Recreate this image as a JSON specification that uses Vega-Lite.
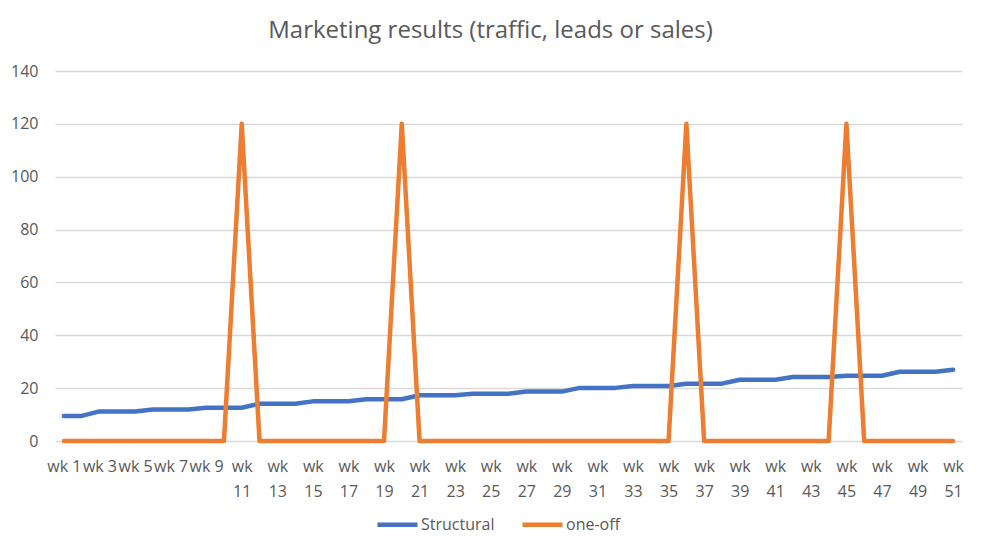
{
  "$schema": "https://vega.github.io/schema/vega-lite/v6.json",
  "width": 907,
  "height": 370,
  "autosize": {"type": "none"},
  "padding": {"left": 55, "top": 71, "right": 20, "bottom": 113},
  "background": "white",
  "title": {
    "text": "Marketing results (traffic, leads or sales)",
    "font": "Open Sans",
    "fontSize": 24,
    "fontWeight": "normal",
    "color": "#595959",
    "anchor": "middle",
    "dx": -18,
    "offset": 20
  },
  "config": {
    "view": {"stroke": null},
    "font": "Open Sans"
  },
  "data": {
    "values": [
      {"week": "wk 1", "Structural": 9.5, "one-off": 0},
      {"week": "wk 2", "Structural": 9.5, "one-off": 0},
      {"week": "wk 3", "Structural": 11.2, "one-off": 0},
      {"week": "wk 4", "Structural": 11.2, "one-off": 0},
      {"week": "wk 5", "Structural": 11.2, "one-off": 0},
      {"week": "wk 6", "Structural": 11.9, "one-off": 0},
      {"week": "wk 7", "Structural": 11.9, "one-off": 0},
      {"week": "wk 8", "Structural": 11.9, "one-off": 0},
      {"week": "wk 9", "Structural": 12.6, "one-off": 0},
      {"week": "wk 10", "Structural": 12.6, "one-off": 0},
      {"week": "wk 11", "Structural": 12.6, "one-off": 120},
      {"week": "wk 12", "Structural": 14.1, "one-off": 0},
      {"week": "wk 13", "Structural": 14.1, "one-off": 0},
      {"week": "wk 14", "Structural": 14.1, "one-off": 0},
      {"week": "wk 15", "Structural": 15.0, "one-off": 0},
      {"week": "wk 16", "Structural": 15.0, "one-off": 0},
      {"week": "wk 17", "Structural": 15.0, "one-off": 0},
      {"week": "wk 18", "Structural": 15.8, "one-off": 0},
      {"week": "wk 19", "Structural": 15.8, "one-off": 0},
      {"week": "wk 20", "Structural": 15.8, "one-off": 120},
      {"week": "wk 21", "Structural": 17.3, "one-off": 0},
      {"week": "wk 22", "Structural": 17.3, "one-off": 0},
      {"week": "wk 23", "Structural": 17.3, "one-off": 0},
      {"week": "wk 24", "Structural": 17.9, "one-off": 0},
      {"week": "wk 25", "Structural": 17.9, "one-off": 0},
      {"week": "wk 26", "Structural": 17.9, "one-off": 0},
      {"week": "wk 27", "Structural": 18.7, "one-off": 0},
      {"week": "wk 28", "Structural": 18.7, "one-off": 0},
      {"week": "wk 29", "Structural": 18.7, "one-off": 0},
      {"week": "wk 30", "Structural": 20.1, "one-off": 0},
      {"week": "wk 31", "Structural": 20.1, "one-off": 0},
      {"week": "wk 32", "Structural": 20.1, "one-off": 0},
      {"week": "wk 33", "Structural": 20.8, "one-off": 0},
      {"week": "wk 34", "Structural": 20.8, "one-off": 0},
      {"week": "wk 35", "Structural": 20.8, "one-off": 0},
      {"week": "wk 36", "Structural": 21.7, "one-off": 120},
      {"week": "wk 37", "Structural": 21.7, "one-off": 0},
      {"week": "wk 38", "Structural": 21.7, "one-off": 0},
      {"week": "wk 39", "Structural": 23.2, "one-off": 0},
      {"week": "wk 40", "Structural": 23.2, "one-off": 0},
      {"week": "wk 41", "Structural": 23.2, "one-off": 0},
      {"week": "wk 42", "Structural": 24.2, "one-off": 0},
      {"week": "wk 43", "Structural": 24.2, "one-off": 0},
      {"week": "wk 44", "Structural": 24.2, "one-off": 0},
      {"week": "wk 45", "Structural": 24.7, "one-off": 120},
      {"week": "wk 46", "Structural": 24.7, "one-off": 0},
      {"week": "wk 47", "Structural": 24.7, "one-off": 0},
      {"week": "wk 48", "Structural": 26.2, "one-off": 0},
      {"week": "wk 49", "Structural": 26.2, "one-off": 0},
      {"week": "wk 50", "Structural": 26.2, "one-off": 0},
      {"week": "wk 51", "Structural": 27.0, "one-off": 0}
    ]
  },
  "transform": [
    {"fold": ["Structural", "one-off"], "as": ["series", "value"]}
  ],
  "mark": {"type": "line", "strokeWidth": 4.5, "strokeCap": "round", "strokeJoin": "round"},
  "encoding": {
    "x": {
      "field": "week",
      "type": "ordinal",
      "sort": null,
      "scale": {"padding": 0.5},
      "axis": {
        "title": null,
        "labelAngle": 0,
        "ticks": false,
        "grid": false,
        "domain": false,
        "labelOverlap": false,
        "labelBound": false,
        "labelFlush": false,
        "labelPadding": 17,
        "labelFontSize": 16,
        "labelColor": "#595959",
        "labelFont": "Open Sans",
        "labelLineHeight": 25,
        "labelExpr": "parseInt(substring(datum.value, 3)) % 2 == 0 ? '' : (parseInt(substring(datum.value, 3)) >= 10 ? ['wk', substring(datum.value, 3)] : datum.value)"
      }
    },
    "y": {
      "field": "value",
      "type": "quantitative",
      "scale": {"domain": [0, 140], "nice": false},
      "axis": {
        "title": null,
        "values": [0, 20, 40, 60, 80, 100, 120, 140],
        "ticks": false,
        "domain": false,
        "grid": true,
        "gridColor": "#d9d9d9",
        "gridWidth": 1.3,
        "labelPadding": 17,
        "labelFontSize": 16,
        "labelColor": "#595959",
        "labelFont": "Open Sans"
      }
    },
    "color": {
      "field": "series",
      "type": "nominal",
      "scale": {"domain": ["Structural", "one-off"], "range": ["#4472C4", "#ED7D31"]},
      "legend": {
        "title": null,
        "orient": "none",
        "direction": "horizontal",
        "legendX": 320,
        "legendY": 431,
        "symbolType": "stroke",
        "symbolSize": 1600,
        "symbolStrokeWidth": 4.5,
        "labelFontSize": 16,
        "labelColor": "#595959",
        "labelFont": "Open Sans",
        "labelOffset": 1,
        "columnPadding": 18
      }
    }
  }
}
